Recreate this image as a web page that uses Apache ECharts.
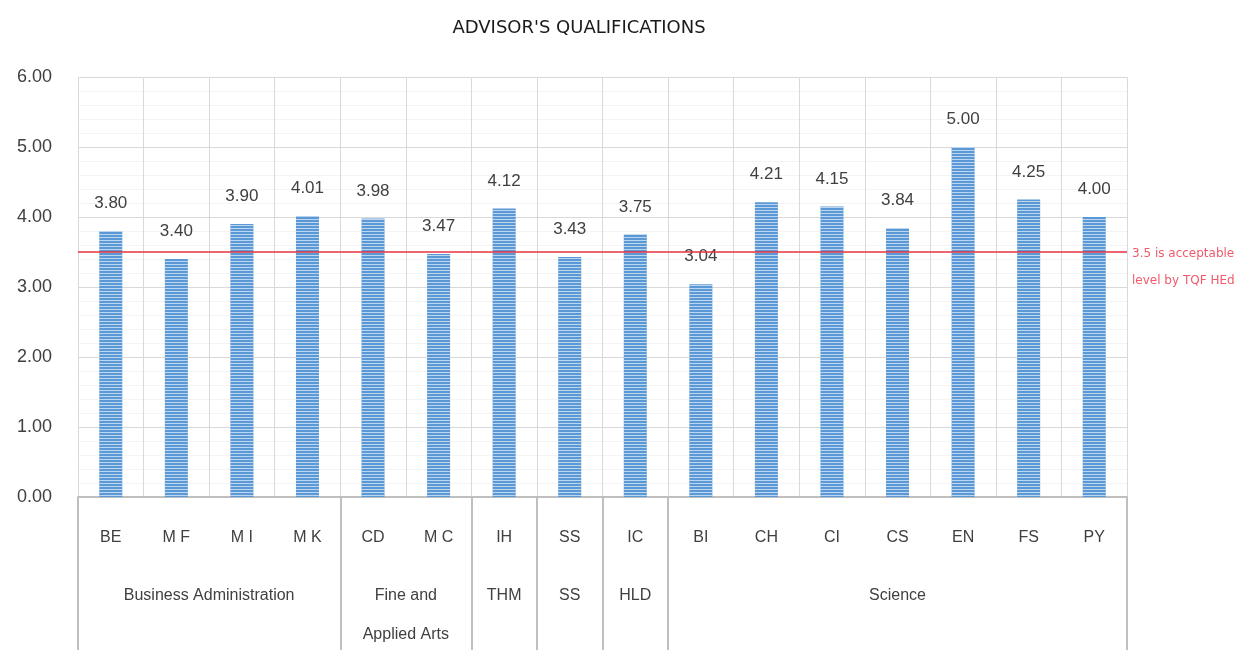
<!DOCTYPE html>
<html>
<head>
<meta charset="utf-8">
<script src="https://cdn.jsdelivr.net/npm/echarts@6/dist/echarts.min.js"></script>
<style>
  html, body { margin: 0; padding: 0; background: #fff; }
  #chart { width: 1248px; height: 650px; }
</style>
</head>
<body>
<div id="chart"></div>
<script>
// data
const codes = ['BE', 'M F', 'M I', 'M K', 'CD', 'M C', 'IH', 'SS', 'IC', 'BI', 'CH', 'CI', 'CS', 'EN', 'FS', 'PY'];
const scores = [3.80, 3.40, 3.90, 4.01, 3.98, 3.47, 4.12, 3.43, 3.75, 3.04, 4.21, 4.15, 3.84, 5.00, 4.25, 4.00];
const groupNames = ['Business Administration', 'Fine and\nApplied Arts', 'THM', 'SS', 'HLD', 'Science'];
const groupSizes = [4, 2, 1, 1, 1, 7];
const acceptLevel = 3.5;
const yTicks = [0, 1, 2, 3, 4, 5, 6];

// group boundaries + centres on a 0..n value axis
let bounds = [0];
let centres = [];
groupSizes.forEach(function (s) {
    let start = bounds[bounds.length - 1];
    centres.push(start + s / 2);
    bounds.push(start + s);
});

const FONT = 'Liberation Sans';
const TXT = '#404040';

const myChart = echarts.init(document.getElementById('chart'));

let option = {
    animation: false,
    title: {
        text: "ADVISOR'S QUALIFICATIONS",
        left: 574,
        textAlign: 'center',
        top: 14,
        textStyle: {
            fontFamily: 'DejaVu Sans',
            fontSize: 18,
            fontWeight: 'normal',
            color: '#1a1a1a'
        }
    },
    grid: {
        left: 78,
        right: 121,
        top: 77,
        bottom: 153,
        outerBoundsMode: 'none'
    },
    xAxis: [
        {
            type: 'category',
            data: codes,
            axisLine: { lineStyle: { color: '#bfbfbf', width: 2 } },
            axisTick: { show: false },
            axisLabel: {
                margin: 33,
                fontFamily: FONT,
                fontSize: 16,
                color: TXT
            },
            splitLine: {
                show: true,
                interval: 0,
                lineStyle: { color: '#d9d9d9' }
            }
        },
        {
            // second row: department groups
            type: 'value',
            min: 0,
            max: codes.length,
            position: 'bottom',
            axisLine: { show: false },
            splitLine: { show: false },
            axisTick: {
                show: true,
                customValues: bounds,
                length: 153,
                lineStyle: { color: '#bfbfbf', width: 2 }
            },
            axisLabel: {
                customValues: centres,
                margin: 79,
                fontFamily: FONT,
                fontSize: 16,
                lineHeight: 39,
                color: TXT,
                formatter: function (v) {
                    return groupNames[centres.indexOf(v)];
                }
            }
        }
    ],
    yAxis: {
        type: 'value',
        min: yTicks[0],
        max: yTicks[yTicks.length - 1],
        interval: 1,
        axisLine: { show: false },
        axisTick: { show: false },
        axisLabel: {
            margin: 26,
            fontFamily: FONT,
            fontSize: 18,
            color: TXT,
            formatter: function (v) {
                return v.toFixed(2);
            }
        },
        splitLine: { lineStyle: { color: '#d9d9d9' } },
        minorTick: { show: false, splitNumber: 5 },
        minorSplitLine: { show: true, lineStyle: { color: '#f4f4f4' } }
    },
    series: [
        {
            type: 'bar',
            data: scores,
            barWidth: 23,
            itemStyle: {
                color: '#5b98d6',
                decal: {
                    symbol: 'rect',
                    symbolSize: 1,
                    dashArrayX: [1, 0],
                    dashArrayY: [1, 2],
                    rotation: 0,
                    color: 'rgba(255,255,255,0.6)'
                }
            },
            label: {
                show: true,
                position: 'top',
                distance: 19,
                fontFamily: FONT,
                fontSize: 17,
                color: TXT,
                formatter: function (p) {
                    return p.value.toFixed(2);
                }
            },
            markLine: {
                silent: true,
                symbol: 'none',
                lineStyle: { color: '#e53340', width: 1.5, type: 'solid' },
                label: {
                    position: 'end',
                    distance: 5,
                    fontFamily: 'DejaVu Sans',
                    fontSize: 12,
                    lineHeight: 27,
                    color: '#f05a6a',
                    offset: [0, 15],
                    formatter: '3.5 is acceptable\nlevel by TQF HEd'
                },
                data: [{ yAxis: acceptLevel }]
            }
        }
    ]
};

myChart.setOption(option);
</script>
</body>
</html>
